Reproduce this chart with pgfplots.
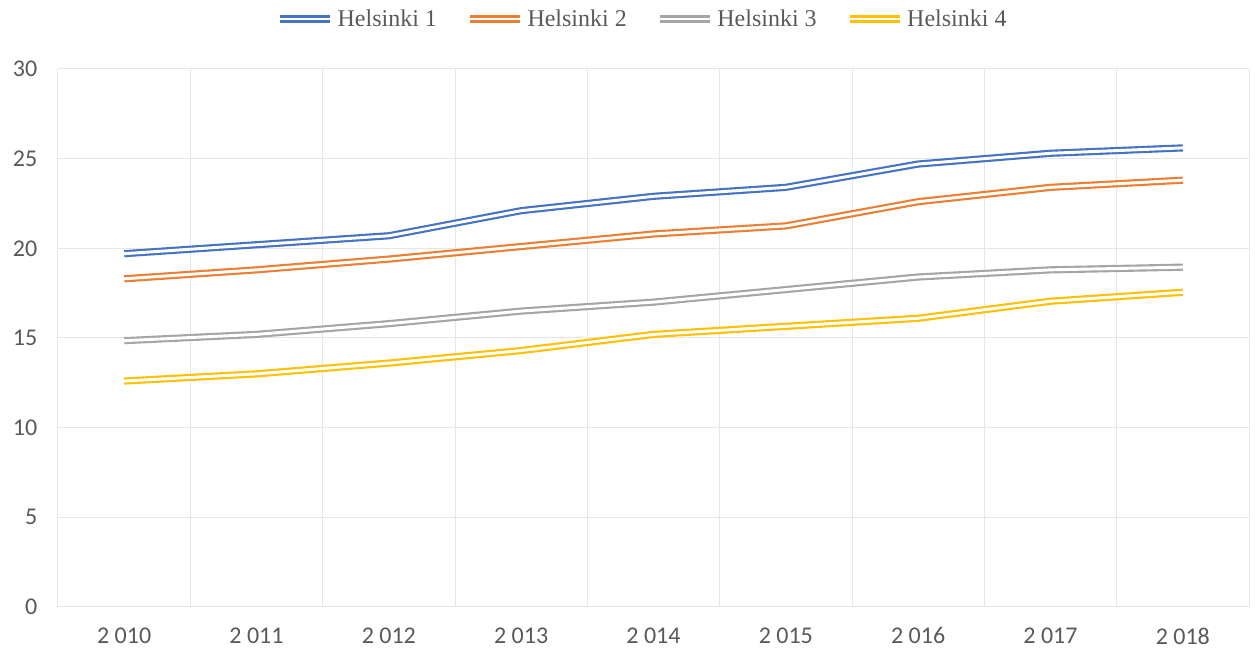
\documentclass[border=0pt]{standalone}
\usepackage{pgfplots}
\pgfplotsset{compat=1.18}
\usepackage{fontspec}
\setmainfont{Liberation Serif}
\newfontfamily\calibri{Carlito}
\definecolor{c1}{HTML}{4472C4}
\definecolor{c2}{HTML}{ED7D31}
\definecolor{c3}{HTML}{A5A5A5}
\definecolor{c4}{HTML}{FFC000}
\definecolor{gridc}{HTML}{E6E6E6}
\definecolor{lab}{HTML}{595959}
\begin{document}
\begin{tikzpicture}
\begin{axis}[name=ax, at={(0,0)}, anchor=south west, scale only axis,
  width=893.25pt, height=403.5pt,
  xmin=-0.5, xmax=8.5, ymin=0, ymax=30, ytick={0,5,...,30},
  xtick={0,...,8},
  xticklabels={2 010,2 011,2 012,2 013,2 014,2 015,2 016,2 017,2 018},
  minor xtick={-0.5,0.5,...,8.5},
  xmajorgrids=false, xminorgrids=true, ymajorgrids=true,
  grid style={draw=gridc, line width=0.75pt},
  minor grid style={draw=gridc, line width=0.75pt},
  axis line style={draw=none},
  major tick length=0pt, minor tick length=0pt,
  tick style={draw=none},
  ticklabel style={font=\calibri\fontsize{18}{20}\selectfont, text=lab},
  /pgf/number format/assume math mode=true,
  yticklabel style={xshift=-12pt},
  xticklabel style={yshift=-12pt},
  legend columns=4,
  legend style={draw=none, fill=none, at={(0.5,1)}, anchor=center, yshift=37.5pt, xshift=-8pt,
    font=\fontsize{18}{20}\selectfont, text=lab,
    /tikz/every even column/.append style={column sep=20pt},
    /tikz/every odd column/.append style={column sep=1pt}},
  legend image code/.code={\draw[#1] (0pt,0pt) -- (37.5pt,0pt);},
  every axis plot/.append style={line width=1.6pt, double=white, double distance=2.2pt, line join=round},
]
\addplot[c1] coordinates {(0,19.7) (1,20.2) (2,20.7) (3,22.1) (4,22.9) (5,23.4) (6,24.7) (7,25.3) (8,25.6)};
\addlegendentry{Helsinki 1}
\addplot[c2] coordinates {(0,18.3) (1,18.8) (2,19.4) (3,20.1) (4,20.8) (5,21.25) (6,22.6) (7,23.4) (8,23.8)};
\addlegendentry{Helsinki 2}
\addplot[c3] coordinates {(0,14.85) (1,15.2) (2,15.8) (3,16.5) (4,17.0) (5,17.7) (6,18.4) (7,18.8) (8,18.95)};
\addlegendentry{Helsinki 3}
\addplot[c4] coordinates {(0,12.6) (1,13.0) (2,13.6) (3,14.3) (4,15.2) (5,15.65) (6,16.1) (7,17.05) (8,17.55)};
\addlegendentry{Helsinki 4}
\end{axis}
\pgfresetboundingbox
\useasboundingbox ([shift={(-43.5pt,-33pt)}]ax.south west) rectangle ([shift={(4.5pt,51.75pt)}]ax.north east);
\end{tikzpicture}
\end{document}
